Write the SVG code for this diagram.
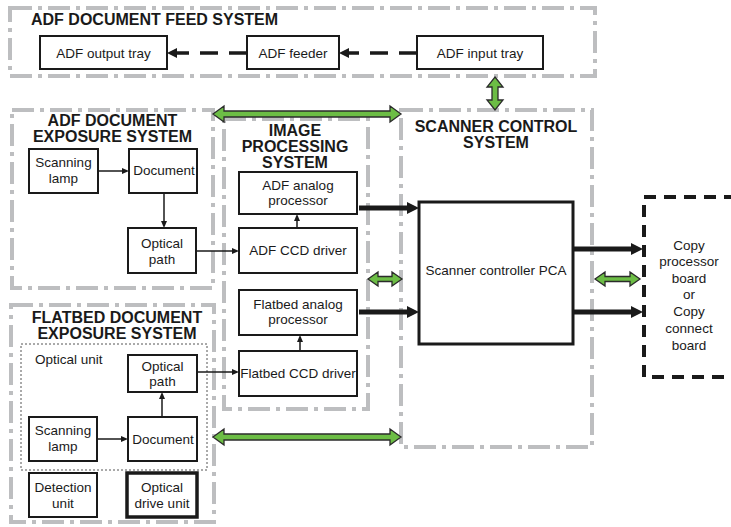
<svg xmlns="http://www.w3.org/2000/svg" width="731" height="527" viewBox="0 0 731 527">
<style>
.frame{fill:none;stroke:#bdbec0;stroke-width:4;stroke-dasharray:22 6 4 6}
.box{fill:#fff;stroke:#1a1a1a;stroke-width:2}
.t{font-family:"Liberation Sans",Arial,sans-serif;font-size:13.5px;fill:#1a1a1a;text-anchor:middle}
.h{font-family:"Liberation Sans",Arial,sans-serif;font-size:16px;font-weight:bold;fill:#1a1a1a;text-anchor:middle}
.thin{stroke:#1a1a1a;stroke-width:1.5;fill:none;marker-end:url(#ah)}
.thick{stroke:#1a1a1a;stroke-width:5;fill:none;marker-end:url(#ahb)}
.dash{stroke:#1a1a1a;stroke-width:3.5;fill:none;stroke-dasharray:18 11;marker-end:url(#ahd)}
.green{fill:#6cbd45;stroke:#2b2b2b;stroke-width:1.3;stroke-linejoin:miter}
</style>
<defs>
<marker id="ah" markerUnits="userSpaceOnUse" viewBox="0 0 7 6" markerWidth="7" markerHeight="6" refX="0" refY="3" orient="auto"><path d="M0,0 L7,3 L0,6 Z" fill="#1a1a1a"/></marker>
<marker id="ahb" markerUnits="userSpaceOnUse" viewBox="0 0 12 12" markerWidth="12" markerHeight="12" refX="0" refY="6" orient="auto"><path d="M0,0 L12,6 L0,12 Z" fill="#1a1a1a"/></marker>
<marker id="ahd" markerUnits="userSpaceOnUse" viewBox="0 0 10 10" markerWidth="10" markerHeight="10" refX="0" refY="5" orient="auto"><path d="M0,0 L10,5 L0,10 Z" fill="#1a1a1a"/></marker>
</defs>

<g id="frames">
<rect class="frame" x="10" y="8" width="585" height="68"/>
<rect class="frame" x="12" y="110" width="201" height="178"/>
<rect class="frame" x="224" y="119" width="144" height="290"/>
<rect class="frame" x="401" y="110" width="191" height="337"/>
<rect class="frame" x="11" y="305" width="203" height="217"/>
<text class="h" x="31" y="25" style="text-anchor:start">ADF DOCUMENT FEED SYSTEM</text>
<text class="h" x="112.5" y="126">ADF DOCUMENT</text>
<text class="h" x="112.5" y="142">EXPOSURE SYSTEM</text>
<text class="h" x="295" y="136">IMAGE</text>
<text class="h" x="295" y="152">PROCESSING</text>
<text class="h" x="295" y="168">SYSTEM</text>
<text class="h" x="496" y="132">SCANNER CONTROL</text>
<text class="h" x="496" y="148">SYSTEM</text>
<text class="h" x="117" y="323">FLATBED DOCUMENT</text>
<text class="h" x="117" y="339">EXPOSURE SYSTEM</text>
</g>

<g id="optical-unit">
<rect x="21" y="344" width="186" height="126" fill="none" stroke="#555" stroke-width="1" stroke-dasharray="2 2"/>
<text class="t" x="35" y="364" style="text-anchor:start">Optical unit</text>
</g>

<g id="connectors">
<line class="dash" x1="417" y1="53" x2="349" y2="53"/>
<line class="dash" x1="247" y1="53" x2="177" y2="53"/>
<line class="thin" x1="98" y1="171" x2="122" y2="171"/>
<line class="thin" x1="164" y1="193" x2="164" y2="221"/>
<line class="thin" x1="196" y1="251" x2="232" y2="251"/>
<line class="thin" x1="297" y1="228" x2="297" y2="221"/>
<line class="thick" x1="359" y1="208" x2="407" y2="208"/>
<line class="thick" x1="359" y1="312" x2="407" y2="312"/>
<line class="thick" x1="573" y1="249" x2="631" y2="249"/>
<line class="thick" x1="573" y1="312" x2="631" y2="312"/>
<line class="thin" x1="197" y1="372" x2="232" y2="372"/>
<line class="thin" x1="300" y1="351" x2="300" y2="342"/>
<line class="thin" x1="97" y1="439" x2="121" y2="439"/>
<line class="thin" x1="162" y1="417" x2="162" y2="399"/>
<path class="green" d="M213,114 L224,106 L224,111 L390,111 L390,106 L401,114 L390,122 L390,117 L224,117 L224,122 Z"/>
<path class="green" d="M213,437 L224,429 L224,434 L390,434 L390,429 L401,437 L390,445 L390,440 L224,440 L224,445 Z"/>
<path class="green" d="M368,279 L378,272 L378,276.5 L392,276.5 L392,272 L402,279 L392,286 L392,281.5 L378,281.5 L378,286 Z"/>
<path class="green" d="M595,279 L605,272 L605,276.5 L630,276.5 L630,272 L640,279 L630,286 L630,281.5 L605,281.5 L605,286 Z"/>
<path class="green" d="M495,77 L503,87 L498,87 L498,100 L503,100 L495,110 L487,100 L492,100 L492,87 L487,87 Z"/>
</g>

<g id="adf-output-tray"><rect class="box" x="40" y="36" width="127" height="33"/><text class="t" x="103.5" y="58">ADF output tray</text></g>
<g id="adf-feeder"><rect class="box" x="247" y="36" width="92" height="33"/><text class="t" x="293" y="58">ADF feeder</text></g>
<g id="adf-input-tray"><rect class="box" x="417" y="36" width="126" height="33"/><text class="t" x="480" y="58">ADF input tray</text></g>

<g id="adf-scanning-lamp"><rect class="box" x="29" y="149" width="69" height="44"/><text class="t" x="63.5" y="167">Scanning</text><text class="t" x="63.5" y="183">lamp</text></g>
<g id="adf-document"><rect class="box" x="129" y="149" width="68" height="44"/><text class="t" x="164" y="175">Document</text></g>
<g id="adf-optical-path"><rect class="box" x="128" y="228" width="68" height="45"/><text class="t" x="162" y="248">Optical</text><text class="t" x="162" y="264">path</text></g>

<g id="adf-analog-processor"><rect class="box" x="239" y="172" width="118" height="42"/><text class="t" x="298" y="190">ADF analog</text><text class="t" x="298" y="205">processor</text></g>
<g id="adf-ccd-driver"><rect class="box" x="239" y="228" width="118" height="45"/><text class="t" x="298" y="255">ADF CCD driver</text></g>
<g id="flatbed-analog-processor"><rect class="box" x="239" y="290" width="118" height="45"/><text class="t" x="298" y="309">Flatbed analog</text><text class="t" x="298" y="324">processor</text></g>
<g id="flatbed-ccd-driver"><rect class="box" x="239" y="351" width="118" height="45"/><text class="t" x="298" y="378">Flatbed CCD driver</text></g>

<g id="scanner-controller-pca"><rect class="box" x="419" y="202" width="154" height="142" style="stroke-width:3"/><text class="t" x="496" y="275">Scanner controller PCA</text></g>

<g id="copy-board">
<rect x="644" y="197" width="120" height="180" fill="none" stroke="#1a1a1a" stroke-width="4" stroke-dasharray="12 8"/>
<text class="t" x="689" y="250">Copy</text>
<text class="t" x="689" y="266">processor</text>
<text class="t" x="689" y="283">board</text>
<text class="t" x="689" y="299">or</text>
<text class="t" x="689" y="316">Copy</text>
<text class="t" x="689" y="333">connect</text>
<text class="t" x="689" y="350">board</text>
</g>

<g id="flatbed-optical-path"><rect class="box" x="128" y="355" width="69" height="37"/><text class="t" x="162.5" y="371">Optical</text><text class="t" x="162.5" y="386">path</text></g>
<g id="flatbed-scanning-lamp"><rect class="box" x="29" y="417" width="68" height="44"/><text class="t" x="63" y="435">Scanning</text><text class="t" x="63" y="451">lamp</text></g>
<g id="flatbed-document"><rect class="box" x="128" y="417" width="69" height="44"/><text class="t" x="163" y="444">Document</text></g>
<g id="detection-unit"><rect class="box" x="29" y="473" width="68" height="44"/><text class="t" x="63" y="492">Detection</text><text class="t" x="63" y="508">unit</text></g>
<g id="optical-drive-unit"><rect class="box" x="127" y="473" width="70" height="44" style="stroke-width:3.5"/><text class="t" x="162" y="492">Optical</text><text class="t" x="162" y="508">drive unit</text></g>
</svg>
